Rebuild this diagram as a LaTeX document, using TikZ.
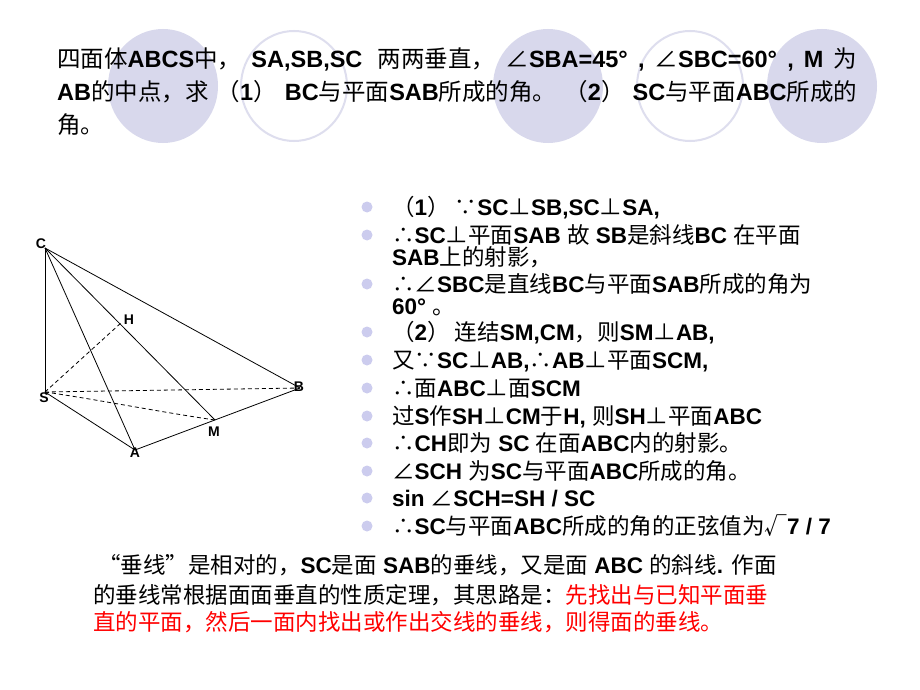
\documentclass[tikz,border=0pt]{standalone}
\usepackage{fontspec}
\setmainfont{Liberation Sans}
\newfontfamily\cjk{Noto Sans CJK SC}
\newcommand\C[1]{{\cjk\mdseries #1}}
\newcommand\gl{\hspace{0pt plus 1fil}}
\definecolor{lav}{RGB}{216,216,236}
\definecolor{lavline}{RGB}{222,222,238}
\definecolor{bul}{RGB}{204,204,238}
\tikzset{
  fill ell/.style={fill=lav,draw=none},
  ring/.style={draw=lavline,line width=2pt},
  txt/.style={anchor=base west,inner sep=0pt,font=\fontsize{22.5}{22.5}\selectfont\bfseries},
  ttl/.style={anchor=base west,inner sep=0pt,font=\fontsize{23.5}{23.5}\selectfont\bfseries},
  lbl/.style={font=\fontsize{14}{14}\selectfont\bfseries,inner sep=0pt},
  edge/.style={line width=0.8pt},
  hid/.style={line width=0.8pt,dash pattern=on 4pt off 3pt},
  dot/.style={circle,fill=bul,minimum size=11pt,inner sep=0pt}
}
\begin{document}
\begin{tikzpicture}[x=1pt,y=-1pt]
\path[use as bounding box] (0,0) rectangle (920,690);
\fill[white] (0,0) rectangle (920,690);
% decorative ellipses
\path[fill ell] (163,86) ellipse (55 and 57);
\path[ring] (294,86) ellipse (53 and 55);
\path[fill ell] (548,86) ellipse (55 and 57);
\path[ring] (690,86) ellipse (53 and 55);
\path[fill ell] (822,86) ellipse (55 and 57);
% title
\node[ttl] (t1) at (57,68) {\makebox[800pt][s]{\C{四面体}ABCS\C{中，}\gl SA,SB,SC\gl\C{ 两两垂直，}\gl\C{∠}SBA=45°\gl,\gl\C{∠}SBC=60°\gl,\gl M\gl\C{为}}};
\node[ttl] (t2) at (57,101) {\makebox[800pt][s]{AB\C{的中点，求}\gl\C{（}1\C{）}\gl BC\C{与平面}SAB\C{所成的角。}\gl\C{（}2\C{）}\gl SC\C{与平面}ABC\C{所成的}}};
\node[ttl] (t3) at (57,133) {\C{角。}};
% figure
\coordinate (C) at (45,248);
\coordinate (S) at (45,392);
\coordinate (A) at (135,450);
\coordinate (B) at (300,388);
\coordinate (M) at (215,420);
\coordinate (H) at (122,322);
\draw[edge] (C) -- (S);
\draw[edge] (C) -- (A);
\draw[edge] (C) -- (B);
\draw[edge] (C) -- (M);
\draw[edge] (S) -- (A);
\draw[edge] (A) -- (B);
\draw[hid] (S) -- (B);
\draw[hid] (S) -- (H);
\draw[hid] (S) .. controls (100,400) and (160,412) .. (M);
\node[lbl] (lC) at (41,244) {C};
\node[lbl] (lS) at (44,398) {S};
\node[lbl] (lA) at (135,453) {A};
\node[lbl] (lB) at (299,387) {B};
\node[lbl] (lM) at (214,432) {M};
\node[lbl] (lH) at (129,320) {H};
% bullets
\foreach \y in {207,235,284,332,360,388,416,443,471,498,526} \node[dot] at (367,\y) {};
\node[txt] (b1) at (392,215) {\C{（}1\C{） ∵}SC\C{⊥}SB,SC\C{⊥}SA,};
\node[txt] (b2) at (392,243) {\C{∴}SC\C{⊥平面}SAB \C{故} SB\C{是斜线}BC \C{在平面}};
\node[txt] (b2b) at (392,265) {SAB\C{上的射影，}};
\node[txt] (b3) at (392,292) {\C{∴∠}SBC\C{是直线}BC\C{与平面}SAB\C{所成的角为}};
\node[txt] (b3b) at (392,314) {60° \C{。}};
\node[txt] (b4) at (392,340) {\C{（}2\C{） 连结}SM,CM\C{，则}SM\C{⊥}AB,};
\node[txt] (b5) at (392,368) {\C{又∵}SC\C{⊥}AB,\C{∴}AB\C{⊥平面}SCM,};
\node[txt] (b6) at (392,396) {\C{∴面}ABC\C{⊥面}SCM};
\node[txt] (b7) at (392,424) {\C{过}S\C{作}SH\C{⊥}CM\C{于}H, \C{则}SH\C{⊥平面}ABC};
\node[txt] (b8) at (392,451) {\C{∴}CH\C{即为} SC \C{在面}ABC\C{内的射影。}};
\node[txt] (b9) at (392,479) {\C{∠}SCH \C{为}SC\C{与平面}ABC\C{所成的角。}};
\node[txt] (b10) at (392,506) {sin \C{∠}SCH=SH / SC};
\node[txt] (b11) at (392,534) {\C{∴}SC\C{与平面}ABC\C{所成的角的正弦值为}\C{√}7 / 7};
% bottom text
\node[txt] (n1) at (98,573) {\C{“垂线”是相对的，}SC\C{是面} SAB\C{的垂线，又是面} ABC \C{的斜线}. \C{作面}};
\node[txt] (n2) at (93,603) {\C{的垂线常根据面面垂直的性质定理，其思路是：\textcolor{red}{先找出与已知平面垂}}};
\node[txt] (n3) at (93,630) {\C{\textcolor{red}{直的平面，然后一面内找出或作出交线的垂线，则得面的垂线。}}};
\end{tikzpicture}
\end{document}
